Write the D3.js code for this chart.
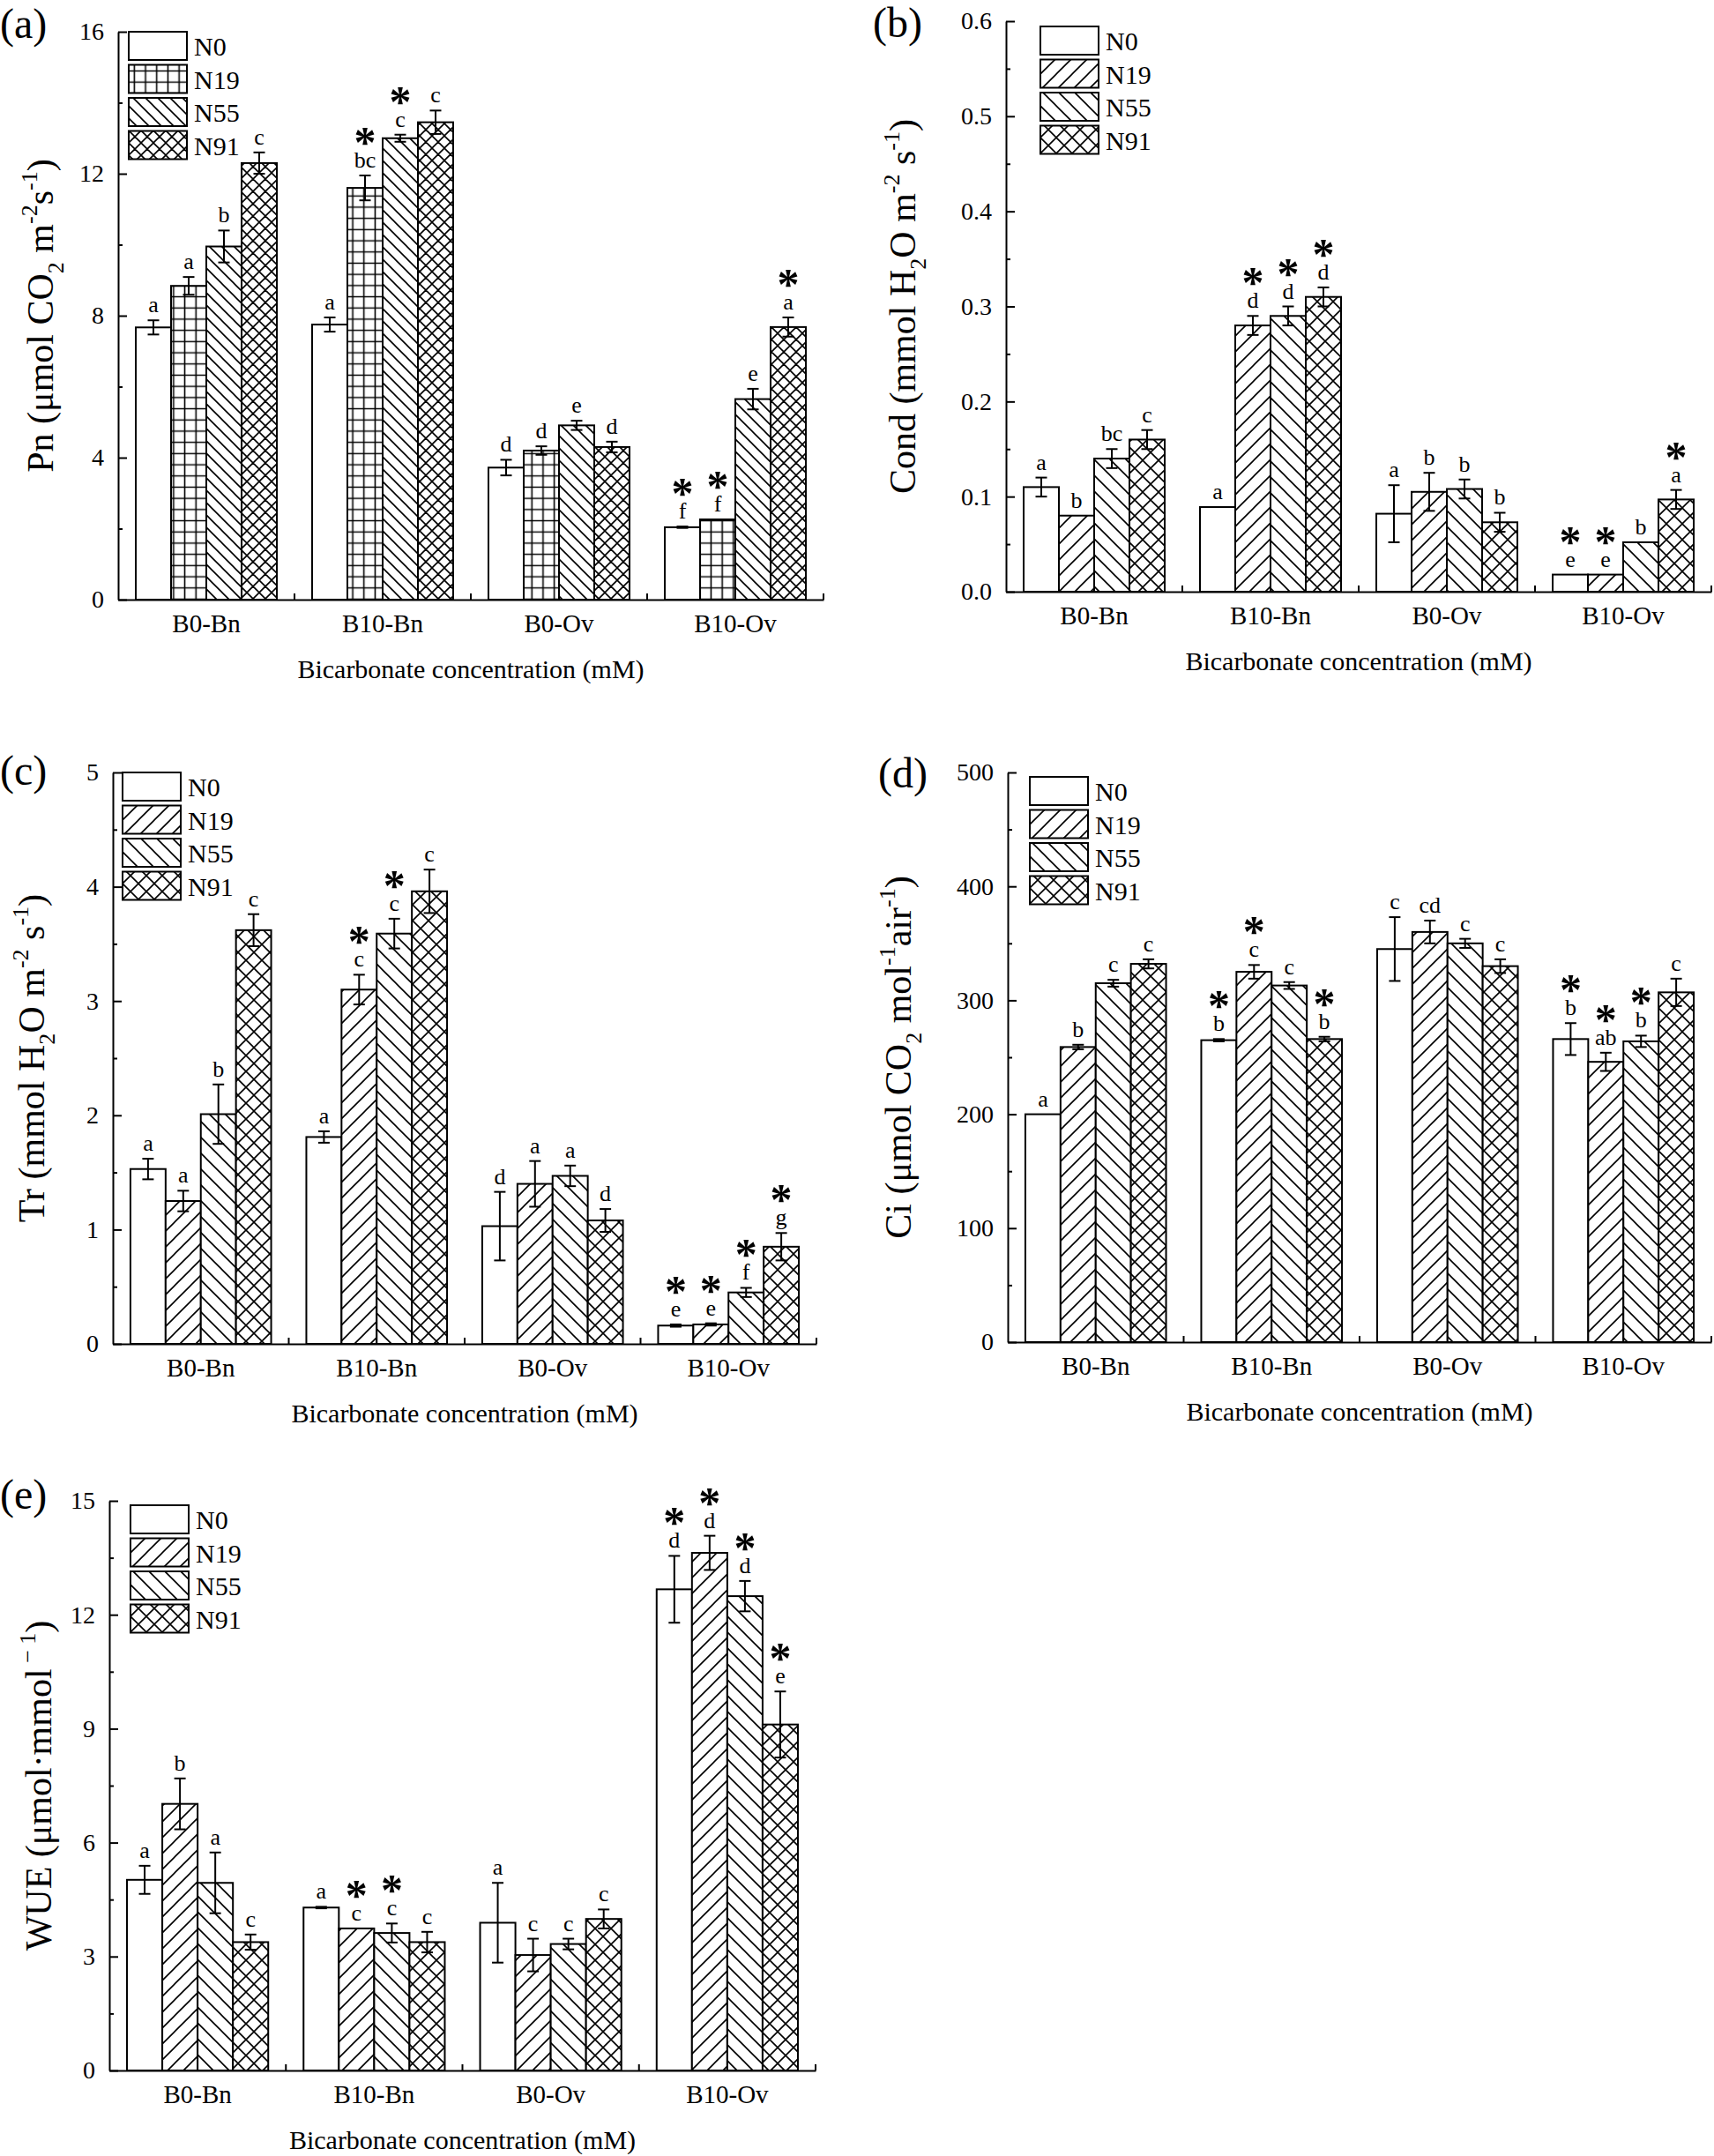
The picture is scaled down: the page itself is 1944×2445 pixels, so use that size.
<!DOCTYPE html>
<html><head><meta charset="utf-8">
<script src="https://cdn.jsdelivr.net/npm/d3@7/dist/d3.min.js"></script>
<style>body{margin:0;background:#fff}svg{display:block}</style>
</head><body>
<svg id="chart" width="1944" height="2445"></svg>
<script>
// ---------- DATA ----------
const categories = ["B0-Bn", "B10-Bn", "B0-Ov", "B10-Ov"];
const seriesNames = ["N0", "N19", "N55", "N91"];

// (a) Pn
const pnMean = [[7.67, 8.84, 9.95, 12.3], [7.75, 11.6, 13.0, 13.45], [3.72, 4.2, 4.91, 4.3], [2.04, 2.26, 5.65, 7.68]];
const pnErr = [[0.2, 0.25, 0.45, 0.3], [0.2, 0.35, 0.1, 0.33], [0.22, 0.12, 0.13, 0.15], [0.02, 0, 0.29, 0.27]];
const pnLetters = [["a", "a", "b", "c"], ["a", "bc", "c", "c"], ["d", "d", "e", "d"], ["f", "f", "e", "a"]];
const pnStars = [[0, 0, 0, 0], [0, 1, 1, 0], [0, 0, 0, 0], [1, 1, 0, 1]];
const pnTicks = [0, 4, 8, 12, 16];

// (b) Cond
const condMean = [[0.110, 0.080, 0.140, 0.160], [0.089, 0.280, 0.290, 0.310], [0.082, 0.105, 0.108, 0.073], [0.018, 0.018, 0.052, 0.097]];
const condErr = [[0.010, 0, 0.010, 0.010], [0, 0.010, 0.010, 0.010], [0.030, 0.020, 0.010, 0.010], [0, 0, 0, 0.010]];
const condLetters = [["a", "b", "bc", "c"], ["a", "d", "d", "d"], ["a", "b", "b", "b"], ["e", "e", "b", "a"]];
const condStars = [[0, 0, 0, 0], [0, 1, 1, 1], [0, 0, 0, 0], [1, 1, 0, 1]];
const condTicks = [0, 0.1, 0.2, 0.3, 0.4, 0.5, 0.6];

// (c) Tr
const trMean = [[1.53, 1.25, 2.01, 3.62], [1.81, 3.10, 3.59, 3.96], [1.03, 1.40, 1.47, 1.08], [0.16, 0.17, 0.45, 0.85]];
const trErr = [[0.09, 0.09, 0.26, 0.14], [0.05, 0.13, 0.13, 0.19], [0.30, 0.20, 0.09, 0.10], [0.01, 0.01, 0.04, 0.12]];
const trLetters = [["a", "a", "b", "c"], ["a", "c", "c", "c"], ["d", "a", "a", "d"], ["e", "e", "f", "g"]];
const trStars = [[0, 0, 0, 0], [0, 1, 1, 0], [0, 0, 0, 0], [1, 1, 1, 1]];
const trTicks = [0, 1, 2, 3, 4, 5];

// (d) Ci
const ciMean = [[200, 259, 315, 332], [265, 325, 313, 266], [345, 360, 350, 330], [266, 246, 264, 307]];
const ciErr = [[0, 2, 3, 4], [1, 6, 3, 2], [28, 10, 4, 6], [14, 8, 5, 12]];
const ciLetters = [["a", "b", "c", "c"], ["b", "c", "c", "b"], ["c", "cd", "c", "c"], ["b", "ab", "b", "c"]];
const ciStars = [[0, 0, 0, 0], [1, 1, 0, 1], [0, 0, 0, 0], [1, 1, 1, 0]];
const ciTicks = [0, 100, 200, 300, 400, 500];

// (e) WUE
const wueMean = [[5.02, 7.02, 4.94, 3.38], [4.29, 3.74, 3.62, 3.38], [3.89, 3.04, 3.33, 3.99], [12.67, 13.63, 12.49, 9.11]];
const wueErr = [[0.37, 0.67, 0.8, 0.2], [0.02, 0, 0.25, 0.27], [1.05, 0.43, 0.14, 0.25], [0.88, 0.45, 0.4, 0.87]];
const wueLetters = [["a", "b", "a", "c"], ["a", "c", "c", "c"], ["a", "c", "c", "c"], ["d", "d", "d", "e"]];
const wueStars = [[0, 0, 0, 0], [0, 1, 1, 0], [0, 0, 0, 0], [1, 1, 1, 1]];
const wueTicks = [0, 3, 6, 9, 12, 15];

const xTitle = "Bicarbonate concentration (mM)";

// ---------- LAYOUT ----------
const FONT = "'Liberation Serif', 'Times New Roman', serif";
const svg = d3.select("#chart");
svg.append("rect").attr("width", 1944).attr("height", 2445).attr("fill", "#fff");
const defs = svg.append("defs");

const panels = [
  { id: "a", mean: pnMean, err: pnErr, letters: pnLetters, stars: pnStars, ticks: pnTicks, fmt: d3.format("d"),
    x0: 134, x1: 934, yTop: 36, yBot: 680, hatch: 14, grid: true,
    tag: { x: 0, y: 43 }, legend: { x: 146, y: 36 }, ylabX: 60,
    ylab: [["Pn (μmol CO"], ["2", "sub"], [" m"], ["-2", "sup"], ["s"], ["-1", "sup"], [")"]] },
  { id: "b", mean: condMean, err: condErr, letters: condLetters, stars: condStars, ticks: condTicks, fmt: d3.format(".1f"),
    x0: 1141, x1: 1941, yTop: 24, yBot: 671, hatch: 18, grid: false,
    tag: { x: 990, y: 42 }, legend: { x: 1180, y: 30 }, ylabX: 1038,
    ylab: [["Cond (mmol H"], ["2", "sub"], ["O m"], ["-2", "sup"], [" s"], ["-1", "sup"], [")"]] },
  { id: "c", mean: trMean, err: trErr, letters: trLetters, stars: trStars, ticks: trTicks, fmt: d3.format("d"),
    x0: 128, x1: 926, yTop: 876, yBot: 1524, hatch: 18, grid: false,
    tag: { x: 0, y: 890 }, legend: { x: 139, y: 876 }, ylabX: 50,
    ylab: [["Tr (mmol H"], ["2", "sub"], ["O m"], ["-2", "sup"], [" s"], ["-1", "sup"], [")"]] },
  { id: "d", mean: ciMean, err: ciErr, letters: ciLetters, stars: ciStars, ticks: ciTicks, fmt: d3.format("d"),
    x0: 1143, x1: 1941, yTop: 876, yBot: 1522, hatch: 18, grid: false,
    tag: { x: 996, y: 893 }, legend: { x: 1168, y: 881 }, ylabX: 1033,
    ylab: [["Ci (μmol CO"], ["2", "sub"], [" mol"], ["-1", "sup"], ["air"], ["-1", "sup"], [")"]] },
  { id: "e", mean: wueMean, err: wueErr, letters: wueLetters, stars: wueStars, ticks: wueTicks, fmt: d3.format("d"),
    x0: 124, x1: 925, yTop: 1702, yBot: 2348, hatch: 18, grid: false,
    tag: { x: 0, y: 1711 }, legend: { x: 148, y: 1707 }, ylabX: 58,
    ylab: [["WUE (μmol·mmol"], [" − 1", "sup"], [")"]] }
];

function makePatterns(p) {
  const s = p.hatch, sw = 1.6;
  const mk = (id, paths, size) => {
    const pat = defs.append("pattern").attr("id", id).attr("patternUnits", "userSpaceOnUse")
      .attr("width", size).attr("height", size);
    pat.append("rect").attr("width", size).attr("height", size).attr("fill", "#fff");
    pat.append("path").attr("d", paths).attr("stroke", "#000").attr("stroke-width", sw).attr("fill", "none");
  };
  const fwd = `M0,${s} L${s},0 M${-s / 2},${s / 2} L${s / 2},${-s / 2} M${s / 2},${1.5 * s} L${1.5 * s},${s / 2}`;
  const back = `M0,0 L${s},${s} M${-s / 2},${s / 2} L${s / 2},${1.5 * s} M${s / 2},${-s / 2} L${1.5 * s},${s / 2}`;
  if (p.grid) {
    const g = 12.7;
    mk(`p${p.id}1`, `M0,${g / 2} H${g} M${g / 2},0 V${g}`, g);
  } else {
    mk(`p${p.id}1`, fwd, s);
  }
  mk(`p${p.id}2`, back, s);
  mk(`p${p.id}3`, fwd + " " + back, s);
}

function fillFor(p, si) { return si === 0 ? "#fff" : `url(#p${p.id}${si})`; }

// rich text with sub/superscripts; the baseline offset is undone on the next part
function addRich(textSel, parts, size) {
  let pending = 0;
  parts.forEach(([t, kind]) => {
    const ts = textSel.append("tspan").text(t);
    let shift = 0;
    if (kind === "sub") shift = size * 0.28;
    if (kind === "sup") shift = -size * 0.42;
    const dy = pending + shift;
    if (dy !== 0) ts.attr("dy", dy);
    if (kind) ts.attr("font-size", size * 0.62);
    pending = -shift;
  });
}

panels.forEach(p => {
  makePatterns(p);
  const g = svg.append("g").attr("font-family", FONT);
  const x = d3.scaleBand().domain(categories).range([p.x0, p.x1]);
  const bw = x.bandwidth();
  const xs = d3.scaleBand().domain(seriesNames).range([bw * 0.1, bw * 0.9]);
  const y = d3.scaleLinear().domain([p.ticks[0], p.ticks[p.ticks.length - 1]]).range([p.yBot, p.yTop]);
  const step = p.ticks[1] - p.ticks[0];
  const minors = p.ticks.slice(0, -1).map(t => t + step / 2);

  const rows = [];
  categories.forEach((c, ci) => seriesNames.forEach((s, si) => rows.push({
    c, s, ci, si, v: p.mean[ci][si], e: p.err[ci][si], l: p.letters[ci][si], star: p.stars[ci][si]
  })));

  // bars
  g.selectAll("rect.bar").data(rows).join("rect").attr("class", "bar")
    .attr("x", d => x(d.c) + xs(d.s)).attr("width", xs.bandwidth())
    .attr("y", d => y(d.v)).attr("height", d => y(0) - y(d.v))
    .attr("fill", d => fillFor(p, d.si)).attr("stroke", "#000").attr("stroke-width", 2);

  // error bars
  const cap = 6.5;
  const eb = g.selectAll("g.eb").data(rows.filter(d => d.e > 0)).join("g").attr("class", "eb")
    .attr("stroke", "#000").attr("stroke-width", 2);
  const cx = d => x(d.c) + xs(d.s) + xs.bandwidth() / 2;
  eb.append("line").attr("x1", cx).attr("x2", cx).attr("y1", d => y(d.v - d.e)).attr("y2", d => y(d.v + d.e));
  eb.append("line").attr("x1", d => cx(d) - cap).attr("x2", d => cx(d) + cap).attr("y1", d => y(d.v + d.e)).attr("y2", d => y(d.v + d.e));
  eb.append("line").attr("x1", d => cx(d) - cap).attr("x2", d => cx(d) + cap).attr("y1", d => y(d.v - d.e)).attr("y2", d => y(d.v - d.e));

  // letters and asterisks
  g.selectAll("text.let").data(rows).join("text").attr("class", "let")
    .attr("x", cx).attr("y", d => y(d.v + d.e) - 9)
    .attr("text-anchor", "middle").attr("font-size", 26).text(d => d.l);
  g.selectAll("text.star").data(rows.filter(d => d.star)).join("text").attr("class", "star")
    .attr("x", cx).attr("y", d => y(d.v + d.e) - 9 - 12)
    .attr("text-anchor", "middle").attr("font-size", 50).attr("font-weight", "bold").text("*");

  // y axis
  g.append("g").attr("transform", `translate(${p.x0},0)`)
    .call(d3.axisLeft(y).tickValues(p.ticks).tickFormat(p.fmt).tickSizeInner(-10).tickSizeOuter(0).tickPadding(16))
    .call(s => s.selectAll(".tick text").attr("font-size", 28));
  g.append("g").attr("transform", `translate(${p.x0},0)`)
    .call(d3.axisLeft(y).tickValues(minors).tickFormat("").tickSizeInner(-5).tickSizeOuter(0))
    .call(s => s.select(".domain").remove());
  // x axis
  g.append("g").attr("transform", `translate(0,${p.yBot})`)
    .call(d3.axisBottom(x).tickSize(0).tickPadding(16))
    .call(s => s.selectAll(".tick text").attr("font-size", 29));
  g.selectAll("line.bt").data(categories).join("line").attr("class", "bt")
    .attr("x1", c => x(c) + bw).attr("x2", c => x(c) + bw)
    .attr("y1", p.yBot).attr("y2", p.yBot - 7).attr("stroke", "#000").attr("stroke-width", 2);
  g.selectAll(".domain, .tick line").attr("stroke", "#000").attr("stroke-width", 2);
  g.selectAll(".tick text").attr("font-family", FONT).attr("fill", "#000");

  // x title
  g.append("text").attr("x", (p.x0 + p.x1) / 2).attr("y", p.yBot + 89)
    .attr("text-anchor", "middle").attr("font-size", 30).text(xTitle);

  // y title
  const yt = g.append("text").attr("transform", `translate(${p.ylabX},${(p.yTop + p.yBot) / 2}) rotate(-90)`)
    .attr("text-anchor", "middle").attr("font-size", 42);
  addRich(yt, p.ylab, 42);

  // panel tag
  g.append("text").attr("x", p.tag.x).attr("y", p.tag.y).attr("font-size", 48).text(`(${p.id})`);

  // legend
  const lg = g.append("g").attr("transform", `translate(${p.legend.x},${p.legend.y})`);
  seriesNames.forEach((s, si) => {
    lg.append("rect").attr("x", 0).attr("y", si * 37.5).attr("width", 66).attr("height", 32)
      .attr("fill", fillFor(p, si)).attr("stroke", "#000").attr("stroke-width", 2);
    lg.append("text").attr("x", 74).attr("y", si * 37.5 + 27).attr("font-size", 30).text(s);
  });
});
</script>
</body></html>
